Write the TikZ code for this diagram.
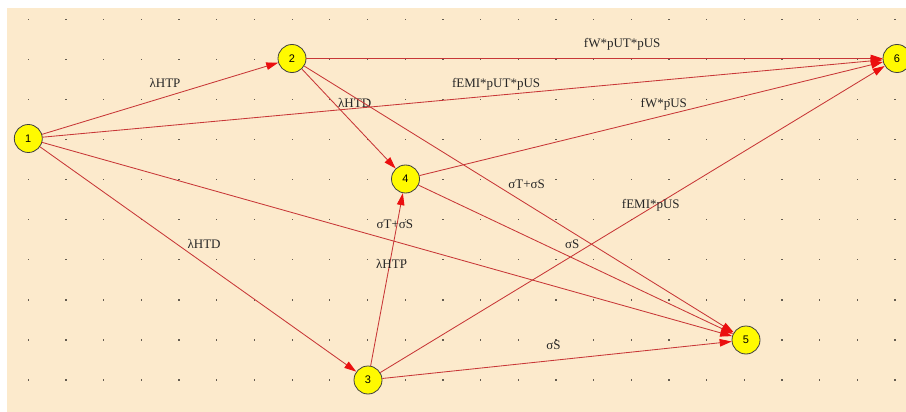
\documentclass[tikz,border=0pt]{standalone}
\usepackage{fontspec}
\setmainfont{Liberation Serif}
\newfontfamily\numfont{Liberation Sans}
\usetikzlibrary{arrows.meta}
\definecolor{paper}{RGB}{252,234,204}
\definecolor{edgered}{RGB}{200,55,55}
\definecolor{tipred}{RGB}{235,15,15}
\definecolor{statefill}{RGB}{255,250,0}
\definecolor{griddot}{RGB}{100,92,80}

\begin{document}
\begin{tikzpicture}[x=1pt,y=-1pt,
  state/.style={circle, draw=black!75, line width=0.8pt, fill=statefill,
    minimum size=28pt, inner sep=0pt, font=\numfont\fontsize{11}{12}\selectfont},
  trans/.style={draw=edgered, line width=0.85pt,
    -{Triangle[length=12pt,width=7.5pt,color=tipred]}},
  rate/.style={pos=0.5, anchor=base west, inner sep=0pt, xshift=-11pt,
    yshift=11pt, font=\fontsize{13}{15}\selectfont, text=black!85}]

\useasboundingbox (0,0) rectangle (906,412);

% canvas and dotted grid
\fill[white] (0,0) rectangle (906,412);
\fill[paper] (7,8) rectangle (906,412);
\foreach \i in {0,...,23}
  \foreach \j in {0,...,9}
    \fill[griddot] ({28.4+37.68*\i-0.65},{19.2+40.1*\j-0.65}) rectangle ++(1.3,1.3);

% states
\node[state] (s1) at (28.3,138.5) {1};
\node[state] (s2) at (292,58.5) {2};
\node[state] (s3) at (368,380) {3};
\node[state] (s4) at (405.5,179) {4};
\node[state] (s5) at (746,340) {5};
\node[state] (s6) at (897,58.5) {6};

% transitions
\draw[trans] (s1) -- node[rate] {λHTP} (s2);
\draw[trans] (s1) -- node[rate] {fEMI*pUT*pUS} (s6);
\draw[trans] (s1) -- node[rate] {σT+σS} (s5);
\draw[trans] (s1) -- node[rate] {λHTD} (s3);
\draw[trans] (s2) -- node[rate] {fW*pUT*pUS} (s6);
\draw[trans] (s2) -- node[rate] {λHTD} (s4);
\draw[trans] (s2) -- node[rate] {σT+σS} (s5);
\draw[trans] (s4) -- node[rate] {fW*pUS} (s6);
\draw[trans] (s4) -- node[rate] {σS} (s5);
\draw[trans] (s3) -- node[rate] {λHTP} (s4);
\draw[trans] (s3) -- node[rate] {fEMI*pUS} (s6);
\draw[trans] (s3) -- node[rate] {σS} (s5);
\end{tikzpicture}
\end{document}
